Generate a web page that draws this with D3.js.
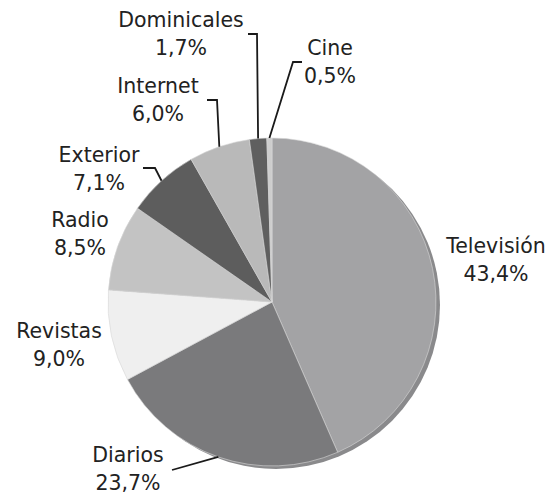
<!DOCTYPE html>
<html>
<head>
<meta charset="utf-8">
<script src="https://cdn.jsdelivr.net/npm/d3@7"></script>
<style>
  body { margin: 0; background: #fff; }
  text { font-family: "DejaVu Sans", Verdana, sans-serif; fill: #222; }
</style>
</head>
<body>
<div id="chart"></div>
<script>
// Data
const categories = ["Televisión", "Diarios", "Revistas", "Radio", "Exterior", "Internet", "Dominicales", "Cine"];
const shares = [43.4, 23.7, 9.0, 8.5, 7.1, 6.0, 1.7, 0.5];
const sliceColors = ["#a3a3a5", "#7a7a7c", "#efefef", "#c3c3c3", "#5d5d5d", "#b9b9b9", "#5f5f5f", "#cdcdcd"];

// Label layout: text centre/baseline and leader elbow, relative to page
const labelLayout = [
  { x: 496, y: 253, leader: null },
  { x: 128, y: 462, leader: [[172, 470]] },
  { x: 59,  y: 338, leader: null },
  { x: 80,  y: 227, leader: null },
  { x: 99,  y: 162, leader: [[155, 168], [143, 168]] },
  { x: 158, y: 93,  leader: [[217, 100], [207, 100]] },
  { x: 181, y: 27,  leader: [[257, 34], [248, 34]] },
  { x: 330, y: 55,  leader: [[293, 62], [302, 62]] }
];

const width = 557, height = 494;
const cx = 272, cy = 302, radius = 164;
const lineGap = 28;

const svg = d3.select("#chart").append("svg")
    .attr("width", width)
    .attr("height", height);

const pie = d3.pie().sort(null).value(d => d)(shares);
const arc = d3.arc().innerRadius(0).outerRadius(radius);
const edgeArc = d3.arc().innerRadius(radius).outerRadius(radius);

const g = svg.append("g").attr("transform", `translate(${cx},${cy})`);

// shadow / bevel edge
g.append("circle")
    .attr("cx", 4)
    .attr("cy", 3)
    .attr("r", radius)
    .attr("fill", "#8a8a8c");

g.selectAll(".slice")
    .data(pie)
    .enter()
    .append("path")
    .attr("class", "slice")
    .attr("d", arc)
    .attr("fill", (d, i) => sliceColors[i])
    .attr("stroke", "#d8d8d8")
    .attr("stroke-width", 0.6);

// leader lines
pie.forEach((d, i) => {
    const lay = labelLayout[i];
    if (!lay.leader) return;
    const p = edgeArc.centroid(d);
    const pts = [[cx + p[0], cy + p[1]]].concat(lay.leader);
    svg.append("path")
        .attr("d", d3.line()(pts))
        .attr("fill", "none")
        .attr("stroke", "#1a1a1a")
        .attr("stroke-width", 1.8);
});

// labels
const labels = svg.selectAll(".label")
    .data(categories)
    .enter()
    .append("text")
    .attr("class", "label")
    .attr("text-anchor", "middle")
    .style("font-size", "20.5px");

labels.append("tspan")
    .attr("x", (d, i) => labelLayout[i].x)
    .attr("y", (d, i) => labelLayout[i].y)
    .text(d => d);

labels.append("tspan")
    .attr("x", (d, i) => labelLayout[i].x)
    .attr("y", (d, i) => labelLayout[i].y + lineGap)
    .text((d, i) => shares[i].toFixed(1).replace(".", ",") + "%");
</script>
</body>
</html>
